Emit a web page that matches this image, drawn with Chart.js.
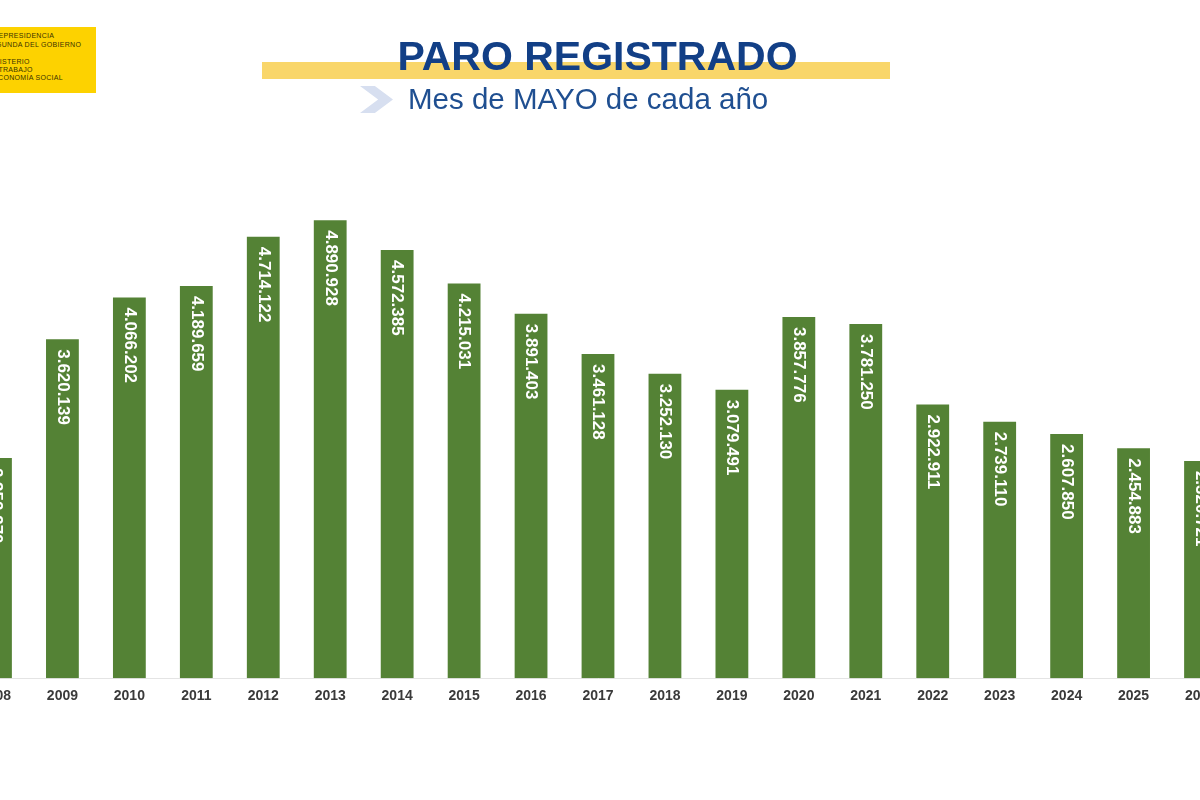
<!DOCTYPE html>
<html>
<head>
<meta charset="utf-8">
<script src="https://cdn.jsdelivr.net/npm/chart.js@4"></script>
<style>
  html, body { margin: 0; padding: 0; background: #fff; overflow: hidden; width: 1200px; height: 800px; }
  #wrap { position: absolute; left: -38px; top: 0; width: 1272px; height: 800px; }
  .logo { position: absolute; left: 0; top: 27px; width: 96px; height: 66px; background: #fdd200; overflow: hidden; }
  .logo div { position: absolute; left: -14px; font: 7px "Liberation Sans", Arial, sans-serif; color: #3b3300; white-space: nowrap; letter-spacing: 0.3px; }
  .band { position: absolute; left: 262px; top: 62px; width: 628px; height: 17px; background: #f9d66a; }
  .title { position: absolute; left: 0; width: 1195px; top: 33px; text-align: center; font: bold 41px "Liberation Sans", Arial, sans-serif; color: #123f86; }
  .chev { position: absolute; left: 360px; top: 86px; width: 33px; height: 27px; background: #d7dff0;
          clip-path: polygon(0 0, 45% 0, 100% 50%, 45% 100%, 0 100%, 55% 50%); }
  .sub { position: absolute; left: 408px; top: 82px; font: 29.5px "Liberation Sans", Arial, sans-serif; color: #1f4f91; white-space: nowrap; }
</style>
</head>
<body>
<div id="wrap"><canvas id="paro"></canvas></div>
<div class="logo">
  <div style="top:5px">VICEPRESIDENCIA</div>
  <div style="top:14px">SEGUNDA DEL GOBIERNO</div>
  <div style="top:31px">MINISTERIO</div>
  <div style="top:39px">DE TRABAJO</div>
  <div style="top:47px">Y ECONOMÍA SOCIAL</div>
</div>
<div class="band"></div>
<div class="title">PARO REGISTRADO</div>
<div class="chev"></div>
<div class="sub">Mes de MAYO de cada año</div>
<script>
// paro registrado, mes de mayo
const years = ["2008", "2009", "2010", "2011", "2012", "2013", "2014", "2015", "2016", "2017",
               "2018", "2019", "2020", "2021", "2022", "2023", "2024", "2025", "2026"];
const paro = [2352370, 3620139, 4066202, 4189659, 4714122, 4890928, 4572385, 4215031, 3891403, 3461128,
              3252130, 3079491, 3857776, 3781250, 2922911, 2739110, 2607850, 2454883, 2320721];

function miles(v) {
  return String(v).replace(/\B(?=(\d{3})+(?!\d))/g, ".");
}

// etiquetas verticales dentro de cada barra
const etiquetas = {
  id: "etiquetas",
  afterDatasetsDraw(chart) {
    const ctx = chart.ctx;
    const meta = chart.getDatasetMeta(0);
    ctx.save();
    ctx.fillStyle = "#ffffff";
    ctx.font = "bold 17px 'Liberation Sans', Arial, sans-serif";
    ctx.textAlign = "left";
    ctx.textBaseline = "middle";
    meta.data.forEach(function (bar, i) {
      ctx.save();
      ctx.translate(bar.x, bar.y + 10);
      ctx.rotate(Math.PI / 2);
      ctx.fillText(miles(paro[i]), 0, 0);
      ctx.restore();
    });
    ctx.restore();
  }
};

new Chart(document.getElementById("paro"), {
  type: "bar",
  data: {
    labels: years,
    datasets: [{
      data: paro,
      backgroundColor: "#548235",
      barPercentage: 0.49,
      categoryPercentage: 1
    }]
  },
  options: {
    responsive: true,
    maintainAspectRatio: false,
    animation: false,
    layout: { padding: { top: 210, bottom: 93, left: 0, right: 0 } },
    plugins: {
      legend: { display: false },
      tooltip: { enabled: false }
    },
    scales: {
      x: {
        grid: { display: false },
        border: { display: true, color: "#e4e4e4" },
        ticks: {
          color: "#3a3a3a",
          padding: 2,
          font: { family: "'Liberation Sans', Arial, sans-serif", size: 14, weight: "bold" }
        }
      },
      y: {
        display: false,
        min: 0,
        max: 5000000
      }
    }
  },
  plugins: [etiquetas]
});
</script>
</body>
</html>
